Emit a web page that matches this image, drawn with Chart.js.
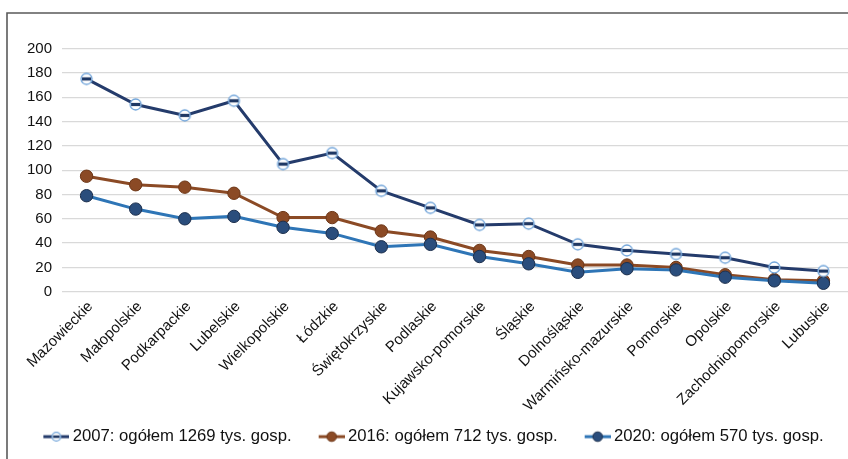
<!DOCTYPE html>
<html lang="pl">
<head>
<meta charset="utf-8">
<title>Gospodarstwa według województw</title>
<script src="https://cdn.jsdelivr.net/npm/chart.js@4/dist/chart.umd.min.js"></script>
<style>
  html, body { margin: 0; padding: 0; background: #fff; }
  #wrap { position: relative; width: 848px; height: 459px; }
</style>
</head>
<body>
<div id="wrap"><canvas id="chart" width="848" height="459"></canvas></div>
<script>
// Województwa
const categories = [
  'Mazowieckie', 'Małopolskie', 'Podkarpackie', 'Lubelskie', 'Wielkopolskie',
  'Łódzkie', 'Świętokrzyskie', 'Podlaskie', 'Kujawsko-pomorskie', 'Śląskie',
  'Dolnośląskie', 'Warmińsko-mazurskie', 'Pomorskie', 'Opolskie',
  'Zachodniopomorskie', 'Lubuskie'
];

// Liczba gospodarstw (tys.)
const values2007 = [175, 154, 145, 157, 105, 114, 83, 69, 55, 56, 39, 34, 31, 28, 20, 17];
const values2016 = [95, 88, 86, 81, 61, 61, 50, 45, 34, 29, 22, 22, 20, 14, 10, 9];
const values2020 = [79, 68, 60, 62, 53, 48, 37, 39, 29, 23, 16, 19, 18, 12, 9, 7];

const seriesNames = [
  '2007: ogółem 1269 tys. gosp.',
  '2016: ogółem 712 tys. gosp.',
  '2020: ogółem 570 tys. gosp.'
];

const yTicks = [0, 20, 40, 60, 80, 100, 120, 140, 160, 180, 200];

const FONT = "'Liberation Sans', Arial, sans-serif";

// Hollow marker with a dark bar across the middle
function hollowMarker(r) {
  const s = Math.ceil(r * 2 + 4);
  const c = document.createElement('canvas');
  c.width = s; c.height = s;
  const g = c.getContext('2d');
  const m = s / 2;
  g.beginPath();
  g.arc(m, m, r, 0, Math.PI * 2);
  g.fillStyle = '#ffffff';
  g.fill();
  g.lineWidth = 1.3;
  g.strokeStyle = '#6fa3d9';
  g.stroke();
  g.fillStyle = '#1f3864';
  g.fillRect(m - r + 1, m - 1.6, (r - 1) * 2, 3.2);
  return c;
}

// Legend swatch: short line with a marker in the middle.
// The blank area on the left acts as the gap between legend entries.
const SWATCH_W = 48;
function legendSwatch(lineColor, kind, fill, border) {
  const h = 14;
  const c = document.createElement('canvas');
  c.width = SWATCH_W; c.height = h;
  const g = c.getContext('2d');
  const x0 = 22, x1 = 48, cx = (x0 + x1) / 2, cy = h / 2;
  g.strokeStyle = lineColor;
  g.lineWidth = 3;
  g.beginPath(); g.moveTo(x0, cy); g.lineTo(x1, cy); g.stroke();
  if (kind === 'hollow') {
    const r = 4.3;
    g.beginPath(); g.arc(cx, cy, r, 0, Math.PI * 2);
    g.fillStyle = '#fff'; g.fill();
    g.lineWidth = 1.2; g.strokeStyle = '#6fa3d9'; g.stroke();
    g.fillStyle = '#1f3864';
    g.fillRect(cx - 3.3, cy - 1.3, 6.6, 2.6);
  } else {
    g.beginPath(); g.arc(cx, cy, 4.8, 0, Math.PI * 2);
    g.fillStyle = fill; g.fill();
    g.lineWidth = 1; g.strokeStyle = border; g.stroke();
  }
  return c;
}

const marker2007 = hollowMarker(5.5);
const swatches = [
  legendSwatch('#243b6b', 'hollow'),
  legendSwatch('#8b4a25', 'solid', '#8b4a25', '#6e3717'),
  legendSwatch('#2e75b6', 'solid', '#2a4d7c', '#1c2f4d')
];

// Frame lines along the top and left edge, white background
const framePlugin = {
  id: 'frame',
  beforeDraw(chart) {
    const ctx = chart.ctx;
    ctx.save();
    ctx.fillStyle = '#ffffff';
    ctx.fillRect(0, 0, chart.width, chart.height);
    ctx.restore();
  },
  afterDraw(chart) {
    const ctx = chart.ctx;
    ctx.save();
    ctx.strokeStyle = '#5a5a5a';
    ctx.lineWidth = 1.6;
    ctx.beginPath();
    ctx.moveTo(7, chart.height);
    ctx.lineTo(7, 13);
    ctx.lineTo(chart.width, 13);
    ctx.stroke();
    ctx.restore();
  }
};

new Chart(document.getElementById('chart'), {
  type: 'line',
  data: {
    labels: categories,
    datasets: [
      {
        label: seriesNames[0],
        data: values2007,
        borderColor: '#243b6b',
        borderWidth: 3,
        pointStyle: marker2007,
        tension: 0,
        order: 0
      },
      {
        label: seriesNames[1],
        data: values2016,
        borderColor: '#8b4a25',
        backgroundColor: '#8b4a25',
        borderWidth: 3,
        pointRadius: 6.2,
        pointBackgroundColor: '#8b4a25',
        pointBorderColor: '#6e3717',
        pointBorderWidth: 1,
        tension: 0,
        order: 2
      },
      {
        label: seriesNames[2],
        data: values2020,
        borderColor: '#2e75b6',
        backgroundColor: '#2a4d7c',
        borderWidth: 3,
        pointRadius: 6.2,
        pointBackgroundColor: '#2a4d7c',
        pointBorderColor: '#1c2f4d',
        pointBorderWidth: 1,
        tension: 0,
        order: 1
      }
    ]
  },
  options: {
    responsive: false,
    animation: false,
    events: [],
    layout: {
      autoPadding: false,
      padding: { top: 48.5, left: 0, right: -2, bottom: 4 }
    },
    plugins: {
      tooltip: { enabled: false },
      legend: {
        position: 'bottom',
        align: 'center',
        labels: {
          usePointStyle: true,
          pointStyleWidth: 38,
          padding: 10,
          color: '#111',
          font: { family: FONT, size: 16.7 },
          generateLabels(chart) {
            return chart.data.datasets.map((ds, i) => ({
              text: ds.label,
              pointStyle: swatches[i],
              fillStyle: ds.borderColor,
              strokeStyle: ds.borderColor,
              lineWidth: 0,
              hidden: false,
              datasetIndex: i,
              fontColor: '#111'
            }));
          }
        }
      }
    },
    scales: {
      x: {
        offset: true,
        grid: { display: false, drawTicks: false },
        border: { display: false },
        ticks: {
          autoSkip: false,
          minRotation: 45,
          maxRotation: 45,
          padding: 6,
          labelOffset: 4,
          color: '#111',
          font: { family: FONT, size: 15 }
        },
        afterFit(scale) {
          scale.height = 126.5;
          scale.paddingLeft = 0;
          scale.paddingRight = 0;
        }
      },
      y: {
        min: 0,
        max: 200,
        afterBuildTicks(scale) { scale.ticks = yTicks.map(v => ({ value: v })); },
        grid: { color: '#d9d9d9', lineWidth: 1.3, drawTicks: false },
        border: { display: false },
        ticks: {
          padding: 10,
          color: '#111',
          font: { family: FONT, size: 15 }
        },
        afterFit(scale) { scale.width = 62; }
      }
    }
  },
  plugins: [framePlugin]
});
</script>
</body>
</html>
